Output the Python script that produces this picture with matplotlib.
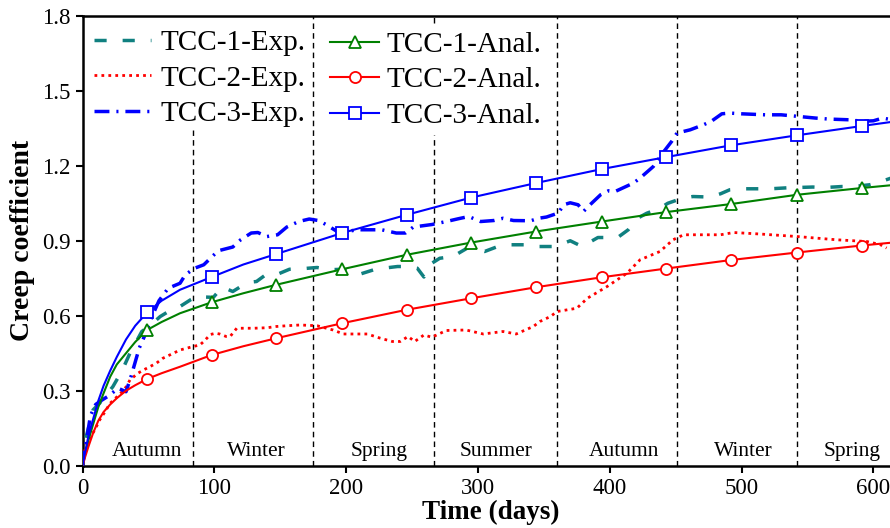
import numpy as np
import matplotlib
matplotlib.use("Agg")
import matplotlib.pyplot as plt
from matplotlib.lines import Line2D

plt.rcParams['font.family'] = ['Liberation Serif', 'DejaVu Serif']

tcc1_exp_x = [0, 2, 4, 8, 13, 21, 23, 30, 36, 45, 51, 59, 68, 74, 82, 88, 92, 97, 99, 106,
              114, 125, 132, 139, 147, 157, 166, 178, 187, 197, 204, 209, 221, 228, 239, 246,
              254, 259, 265, 271, 281, 292, 296, 305, 315, 324, 336, 345, 356, 362, 370, 379,
              391, 400, 407, 414, 421, 428, 438, 444, 455, 463, 476, 484, 491, 500, 513, 522,
              535, 542, 554, 563, 576, 585, 597, 603, 613]
tcc1_exp_y = [0.0, 0.10, 0.14, 0.223, 0.25, 0.303, 0.316, 0.38, 0.45, 0.537, 0.56, 0.597, 0.626,
              0.637, 0.664, 0.68, 0.675, 0.674, 0.672, 0.715, 0.697, 0.733, 0.737, 0.764, 0.764,
              0.786, 0.788, 0.793, 0.784, 0.786, 0.777, 0.764, 0.784, 0.79, 0.797, 0.797, 0.79,
              0.755, 0.81, 0.83, 0.837, 0.871, 0.871, 0.857, 0.877, 0.884, 0.884, 0.877, 0.877,
              0.884, 0.90, 0.877, 0.913, 0.913, 0.917, 0.944, 0.99, 1.01, 1.03, 1.05, 1.07, 1.077,
              1.075, 1.088, 1.104, 1.108, 1.108, 1.108, 1.112, 1.113, 1.115, 1.113, 1.117, 1.117,
              1.124, 1.132, 1.15]

tcc2_exp_x = [0, 1, 3, 6, 9, 13, 17, 21, 25, 29, 33, 36, 42, 47, 51, 56, 61, 67, 74, 79, 84,
              89, 92, 97, 101, 104, 109, 112, 117, 120, 130, 140, 147, 155, 165, 178, 190, 198,
              207, 216, 226, 235, 241, 247, 252, 259, 265, 276, 291, 304, 319, 329, 342, 347,
              355, 360, 375, 383, 398, 413, 423, 438, 448, 456, 470, 484, 494, 514, 542, 572,
              595, 605, 610]
tcc2_exp_y = [0.0, 0.05, 0.08, 0.116, 0.14, 0.183, 0.215, 0.25, 0.27, 0.29, 0.315, 0.343, 0.37,
              0.385, 0.396, 0.41, 0.43, 0.445, 0.463, 0.47, 0.477, 0.483, 0.497, 0.525, 0.53,
              0.527, 0.517, 0.517, 0.55, 0.55, 0.55, 0.552, 0.557, 0.56, 0.563, 0.56, 0.543,
              0.527, 0.527, 0.527, 0.51, 0.497, 0.497, 0.517, 0.497, 0.523, 0.514, 0.541, 0.543,
              0.527, 0.537, 0.527, 0.557, 0.577, 0.597, 0.617, 0.63, 0.67, 0.717, 0.77, 0.824,
              0.857, 0.904, 0.924, 0.924, 0.924, 0.933, 0.927, 0.917, 0.904, 0.897, 0.885, 0.871]

tcc3_exp_x = [0, 3, 6, 10, 14, 20, 27, 33, 37, 43, 48, 53, 58, 65, 74, 78, 85, 92, 99, 103,
              114, 120, 128, 133, 140, 148, 155, 164, 172, 179, 185, 195, 208, 218, 227, 238,
              245, 251, 258, 265, 276, 285, 293, 302, 312, 319, 327, 340, 346, 352, 361, 365,
              370, 376, 380, 385, 393, 399, 404, 418, 423, 433, 441, 447, 451, 461, 471, 477,
              485, 491, 500, 518, 530, 542, 556, 566, 582, 591, 600, 607, 613]
tcc3_exp_y = [0.0, 0.10, 0.20, 0.245, 0.26, 0.28, 0.31, 0.296, 0.36, 0.47, 0.53, 0.60, 0.66,
              0.71, 0.73, 0.764, 0.79, 0.804, 0.84, 0.86, 0.875, 0.904, 0.931, 0.933, 0.917,
              0.924, 0.955, 0.977, 0.987, 0.981, 0.964, 0.931, 0.944, 0.944, 0.944, 0.931,
              0.931, 0.955, 0.96, 0.965, 0.977, 0.988, 0.997, 0.977, 0.981, 0.99, 0.981, 0.98,
              0.99, 0.995, 1.011, 1.044, 1.052, 1.044, 1.017, 1.044, 1.084, 1.10, 1.097, 1.131,
              1.151, 1.197, 1.257, 1.298, 1.331, 1.344, 1.364, 1.378, 1.408, 1.411, 1.408,
              1.404, 1.404, 1.398, 1.391, 1.387, 1.384, 1.378, 1.38, 1.391, 1.385]

# ---- analytical curves ----
anal_x = [0, 2, 4.4, 8, 12, 16, 21, 26, 33, 40, 49, 60, 74, 98, 122, 147, 197, 246, 295, 344,
          394, 443, 492, 542, 591, 613]
tcc1_anal = [0.0, 0.045, 0.10, 0.165, 0.235, 0.29, 0.356, 0.405, 0.45, 0.495, 0.543, 0.575,
             0.61, 0.654, 0.69, 0.724, 0.786, 0.844, 0.893, 0.937, 0.977, 1.015, 1.047, 1.084,
             1.111, 1.122]
tcc2_anal = [0.0, 0.035, 0.075, 0.13, 0.18, 0.215, 0.245, 0.27, 0.30, 0.322, 0.347, 0.37,
             0.396, 0.443, 0.478, 0.510, 0.570, 0.624, 0.670, 0.714, 0.754, 0.789, 0.823,
             0.853, 0.881, 0.892]
tcc3_anal = [0.0, 0.055, 0.116, 0.185, 0.26, 0.32, 0.38, 0.435, 0.505, 0.56, 0.613, 0.66,
             0.704, 0.755, 0.805, 0.847, 0.931, 1.004, 1.073, 1.131, 1.187, 1.235, 1.282,
             1.322, 1.359, 1.375]
mark_idx = [10, 13, 15, 16, 17, 18, 19, 20, 21, 22, 23, 24]

season_bounds = [84, 175, 267, 360, 451, 542]
season_names = ['Autumn', 'Winter', 'Spring', 'Summer', 'Autumn', 'Winter', 'Spring']
season_pos = [49, 132, 225, 314, 411, 501, 584]

fig = plt.figure(figsize=(8.9, 5.28), dpi=100)
ax = fig.add_axes([0.0927, 0.118, 0.9183, 0.852])

# season boundaries; parts hidden behind the legend text are left out
vdash = dict(color='k', lw=1.0, ls=(0, (4, 3)), zorder=1)
for b in season_bounds:
    if b == 84:
        ax.axvline(b, ymax=0.746, **vdash)
    elif b == 267:
        ax.axvline(b, ymax=0.735, **vdash)
        ax.axvline(b, ymin=0.984, **vdash)
    else:
        ax.axvline(b, **vdash)
for name, p in zip(season_names, season_pos):
    ax.text(p, 0.056, name, ha='center', va='center', fontsize=15.5)

teal = '#108080'
l1, = ax.plot(tcc1_exp_x, tcc1_exp_y, color=teal, lw=2.5, ls=(0, (3.5, 4.6)), zorder=3)
l2, = ax.plot(tcc2_exp_x, tcc2_exp_y, color='#ff0000', lw=2.0, ls=(0, (1, 1.5)), zorder=3)
l3, = ax.plot(tcc3_exp_x, tcc3_exp_y, color='#0000ff', lw=2.5, ls=(0, (4.3, 2, 0.6, 2)), zorder=3)

mk = dict(markersize=8, markerfacecolor='white', markeredgewidth=1.3)
ax.plot(anal_x, tcc1_anal, color='#008000', lw=1.5, marker='^', markevery=mark_idx, zorder=4, **mk)
ax.plot(anal_x, tcc2_anal, color='#ff0000', lw=1.5, marker='o', markevery=mark_idx, zorder=4, **mk)
ax.plot(anal_x, tcc3_anal, color='#0000ff', lw=1.5, marker='s', markevery=mark_idx, zorder=4, **mk)

a1 = Line2D([], [], color='#008000', lw=1.5, marker='^', **mk)
a2 = Line2D([], [], color='#ff0000', lw=1.5, marker='o', **mk)
a3 = Line2D([], [], color='#0000ff', lw=1.5, marker='s', **mk)

leg1 = ax.legend([l1, l2, l3], ['TCC-1-Exp.', 'TCC-2-Exp.', 'TCC-3-Exp.'],
                 loc='upper left', bbox_to_anchor=(0.0, 0.995), fontsize=21,
                 handlelength=1.95, handletextpad=0.31, labelspacing=0.31,
                 borderpad=0.4, borderaxespad=0, frameon=False)
ax.add_artist(leg1)
leg2 = ax.legend([a1, a2, a3], ['TCC-1-Anal.', 'TCC-2-Anal.', 'TCC-3-Anal.'],
                 loc='upper left', bbox_to_anchor=(0.296, 0.978), fontsize=21,
                 handlelength=1.68, handletextpad=0.26, labelspacing=0.31, numpoints=1,
                 borderpad=0.2, borderaxespad=0, frameon=False)

ax.set_xlim(0, 620)
ax.set_ylim(0, 1.8)
ax.set_xticks([0, 100, 200, 300, 400, 500, 600])
ax.set_yticks(np.arange(0, 1.81, 0.3))
ax.yaxis.set_major_formatter(matplotlib.ticker.FormatStrFormatter('%.1f'))
ax.tick_params(labelsize=16.5, width=1.5, length=5, direction='out')
for s in ax.spines.values():
    s.set_linewidth(1.8)

ax.set_xlabel('Time (days)', fontsize=19.5, fontweight='bold', labelpad=1)
ax.set_ylabel('Creep coefficient', fontsize=20, fontweight='bold', labelpad=5)

fig.savefig('out.png', dpi=100)
